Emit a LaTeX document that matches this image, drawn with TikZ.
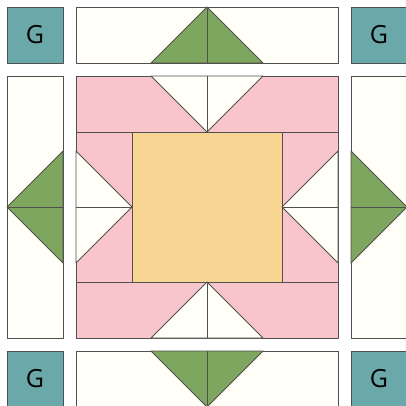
\documentclass[tikz,border=0pt]{standalone}
\usepackage{fontspec}
\setsansfont{Open Sans}
\usetikzlibrary{positioning}
\definecolor{quiltteal}{RGB}{106,168,170}
\definecolor{quiltpink}{RGB}{247,197,202}
\definecolor{quiltgold}{RGB}{249,213,147}
\definecolor{quiltgreen}{RGB}{127,166,95}
\definecolor{quiltcream}{RGB}{255,254,247}
\definecolor{quiltline}{RGB}{80,80,80}

\begin{document}
\begin{tikzpicture}[
    x=1pt, y=-1pt,
    patch/.style={draw=quiltline, line width=0.9pt, line join=round},
    corner/.style={patch, fill=quiltteal, minimum size=56pt, inner sep=0pt,
        font=\sffamily\fontsize{25}{25}\selectfont},
    band/.style={patch, fill=quiltcream},
    leaf/.style={patch, fill=quiltgreen},
    petal/.style={patch, fill=quiltcream}
]
    \useasboundingbox (0,0) rectangle (406,406);

    % corner squares
    \node[corner] (gTL) at (35,35) {G};
    \node[corner] (gTR) at (379,35) {G};
    \node[corner] (gBL) at (35,379) {G};
    \node[corner] (gBR) at (379,379) {G};

    % outer bands with green geese
    \draw[band] (76,7) rectangle (338,63);
    \draw[leaf] (151,63) -- (207,7) -- (263,63) -- cycle;
    \draw[patch] (207,7) -- (207,63);

    \draw[band] (76,351) rectangle (338,407);
    \draw[leaf] (151,351) -- (207,407) -- (263,351) -- cycle;
    \draw[patch] (207,351) -- (207,407);

    \draw[band] (7,76) rectangle (63,338);
    \draw[leaf] (63,151) -- (7,207) -- (63,263) -- cycle;
    \draw[patch] (7,207) -- (63,207);

    \draw[band] (351,76) rectangle (407,338);
    \draw[leaf] (351,151) -- (407,207) -- (351,263) -- cycle;
    \draw[patch] (351,207) -- (407,207);

    % centre block
    \draw[patch, fill=quiltpink] (76,76) rectangle (338,338);
    \draw[patch] (76,132) -- (338,132);
    \draw[patch] (76,282) -- (338,282);
    \draw[patch, fill=quiltgold] (132,132) rectangle (282,282);

    \draw[petal] (151,76) -- (207,132) -- (263,76) -- cycle;
    \draw[patch] (207,76) -- (207,132);
    \draw[petal] (151,338) -- (207,282) -- (263,338) -- cycle;
    \draw[patch] (207,282) -- (207,338);
    \draw[petal] (76,151) -- (132,207) -- (76,263) -- cycle;
    \draw[patch] (76,207) -- (132,207);
    \draw[petal] (338,151) -- (282,207) -- (338,263) -- cycle;
    \draw[patch] (282,207) -- (338,207);
\end{tikzpicture}
\end{document}
